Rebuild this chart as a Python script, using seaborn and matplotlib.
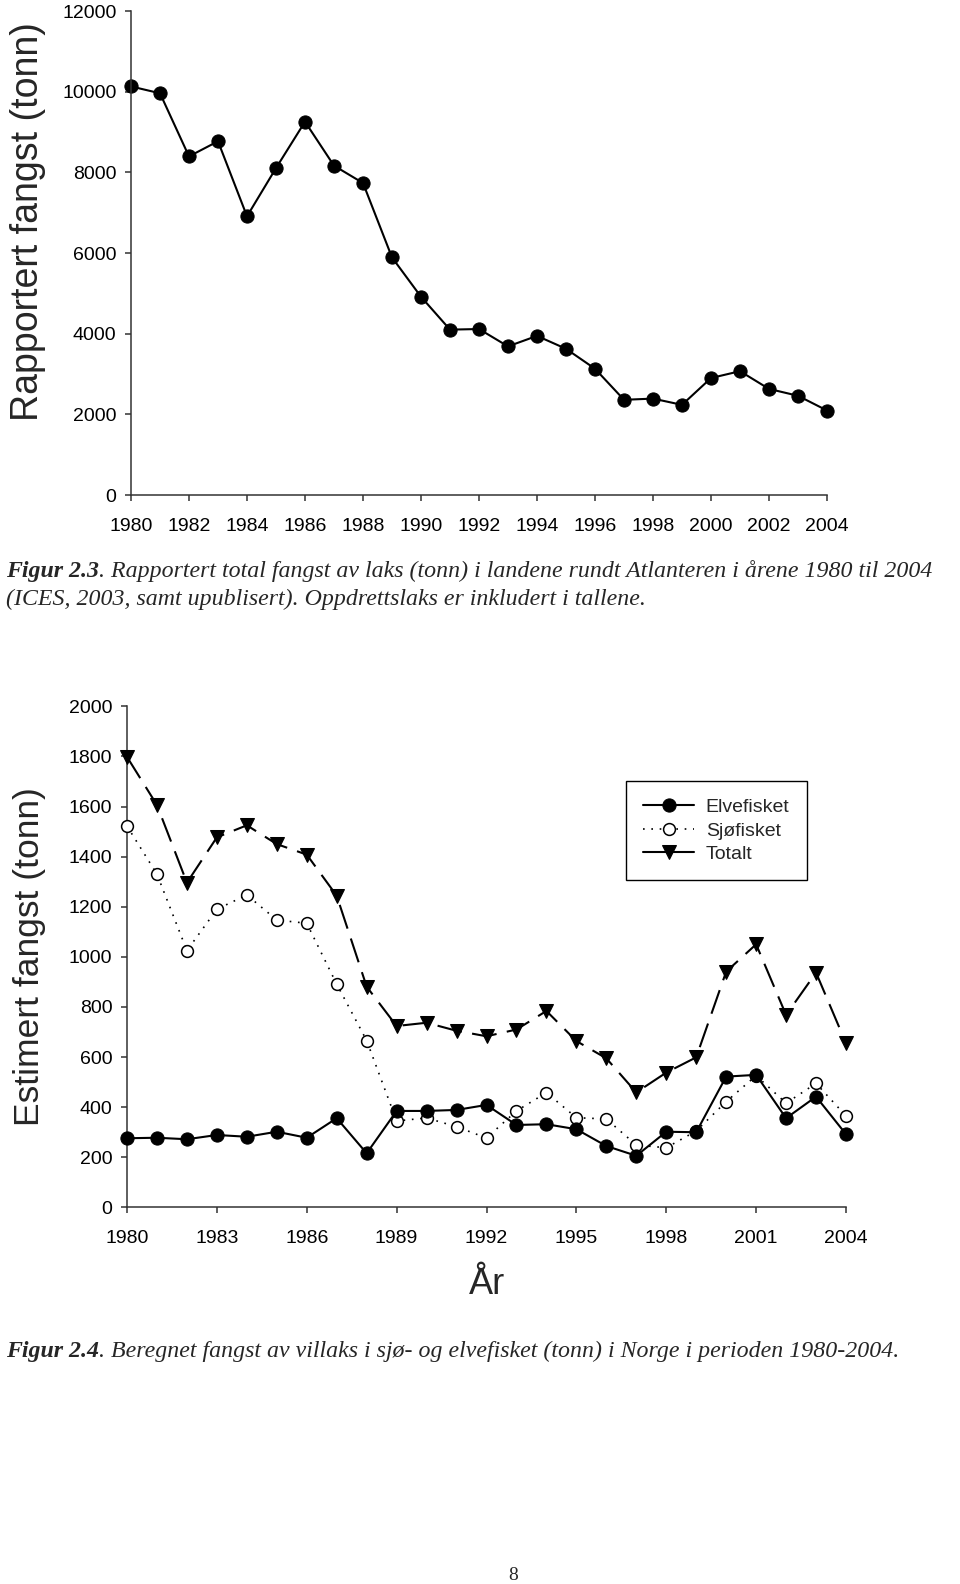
import matplotlib
matplotlib.use("Agg")
import matplotlib.pyplot as plt
import seaborn as sns

# Figur 2.3 - reported total catch around the Atlantic
years = list(range(1980, 2005))
rapportert = [10130, 9960, 8395, 8770, 6910, 8105, 9255, 8165, 7735, 5890,
              4915, 4100, 4115, 3685, 3945, 3625, 3130, 2360, 2390, 2235,
              2900, 3070, 2630, 2460, 2095]

# Figur 2.4 - estimated catch in Norway
elvefisket = [276, 278, 272, 289, 282, 302, 278, 356, 216, 385, 385, 389, 409,
              329, 332, 312, 245, 206, 302, 300, 522, 529, 356, 442, 292]
sjofisket = [1522, 1330, 1025, 1190, 1247, 1147, 1134, 891, 666, 345, 357, 322,
             277, 385, 458, 358, 353, 249, 238, 305, 422, 526, 416, 495, 365]
totalt = [1798, 1606, 1296, 1477, 1525, 1450, 1408, 1244, 881, 724, 737, 705,
          683, 710, 784, 664, 595, 459, 538, 599, 941, 1050, 768, 937, 655]

top_xticks = list(range(1980, 2005, 2))
top_yticks = [0, 2000, 4000, 6000, 8000, 10000, 12000]
bot_xticks = list(range(1980, 2005, 3))
bot_yticks = [0, 200, 400, 600, 800, 1000, 1200, 1400, 1600, 1800, 2000]

cap1_bold = "Figur 2.3"
cap1_rest = (". Rapportert total fangst av laks (tonn) i landene rundt Atlanteren i årene 1980 til 2004")
cap1_line2 = "(ICES, 2003, samt upublisert). Oppdrettslaks er inkludert i tallene."
cap2_bold = "Figur 2.4"
cap2_rest = ". Beregnet fangst av villaks i sjø- og elvefisket (tonn) i Norge i perioden 1980-2004."

sns.set_style("ticks")
plt.rcParams["font.family"] = ["Liberation Sans", "DejaVu Sans"]
plt.rcParams["axes.edgecolor"] = "#333333"
plt.rcParams["axes.linewidth"] = 1.1

W, H = 960, 1584
fig = plt.figure(figsize=(W / 100, H / 100), dpi=100)


def fx(px):
    return px / W


def fy(py):
    return 1 - py / H


def style_axes(ax):
    sns.despine(ax=ax)
    ax.tick_params(axis="both", direction="out", length=4.5, width=1.1,
                   color="#333333", labelsize=14, labelcolor="black")
    ax.tick_params(axis="y", pad=6)
    ax.tick_params(axis="x", pad=12)
    ax.set_xlabel("")
    ax.set_ylabel("")


# ---- top chart
ax1 = fig.add_axes([fx(131), fy(495), fx(827) - fx(131), fy(11) - fy(495)])
sns.lineplot(x=years, y=rapportert, ax=ax1, color="black", linewidth=1.5,
             marker="o", markersize=9.5, markeredgecolor="black",
             errorbar=None, clip_on=False)
ax1.set_xlim(1980, 2004)
ax1.set_ylim(0, 12000)
ax1.set_xticks(top_xticks)
ax1.set_yticks(top_yticks)
style_axes(ax1)
fig.text(fx(28), fy(222), "Rapportert fangst (tonn)", rotation=90,
         ha="center", va="center", fontsize=27)

# ---- bottom chart
ax2 = fig.add_axes([fx(127), fy(1207.4), fx(846) - fx(127), fy(706.3) - fy(1207.4)])
sns.lineplot(x=years, y=elvefisket, ax=ax2, color="black", linewidth=1.5,
             marker="o", markersize=9.5, markeredgecolor="black",
             errorbar=None, clip_on=False, label="Elvefisket", zorder=4)
sns.lineplot(x=years, y=sjofisket, ax=ax2, color="black", linewidth=1.2,
             linestyle=(0, (1, 4)), marker="o", markersize=8.5,
             markerfacecolor="white", markeredgecolor="black", markeredgewidth=1.1,
             errorbar=None, clip_on=False, label="Sjøfisket", zorder=3)
sns.lineplot(x=years, y=totalt, ax=ax2, color="black", linewidth=1.5,
             linestyle=(0, (12, 5)), marker="v", markersize=9.5,
             markeredgecolor="black", errorbar=None, clip_on=False,
             label="Totalt", zorder=3)
ax2.set_xlim(1980, 2004)
ax2.set_ylim(0, 2000)
ax2.set_xticks(bot_xticks)
ax2.set_yticks(bot_yticks)
style_axes(ax2)
leg = ax2.legend(loc="upper left", bbox_to_anchor=(0.694, 0.851), fontsize=14,
                 frameon=True, fancybox=False, edgecolor="black", framealpha=1,
                 handlelength=2.6, handletextpad=0.6, labelspacing=0.3,
                 borderpad=0.9, borderaxespad=0)
leg.get_frame().set_linewidth(1.0)
leg.get_lines()[2].set_linestyle("-")
fig.text(fx(30), fy(957), "Estimert fangst (tonn)", rotation=90,
         ha="center", va="center", fontsize=25.5)
fig.text(fx(487), fy(1285), "År", ha="center", va="center", fontsize=26)

# ---- captions (bold italic lead + italic rest)
serif = ["Liberation Serif", "DejaVu Serif"]
cap_size = 17.2
renderer = fig.canvas.get_renderer()


def caption(x_px, y_px, bold, rest):
    t = fig.text(fx(x_px), fy(y_px), bold, family=serif, style="italic",
                 weight="bold", fontsize=cap_size, va="center", ha="left")
    bb = t.get_window_extent(renderer=renderer)
    fig.text(bb.x1 / W, fy(y_px), rest, family=serif, style="italic",
             fontsize=cap_size, va="center", ha="left")


caption(6, 571, cap1_bold, cap1_rest)
fig.text(fx(6), fy(599), cap1_line2, family=serif, style="italic",
         fontsize=cap_size, va="center", ha="left")
caption(6, 1351, cap2_bold, cap2_rest)

fig.text(fx(513), fy(1576), "8", family=serif, fontsize=14, ha="center", va="center")

fig.savefig("out.png", dpi=100)
